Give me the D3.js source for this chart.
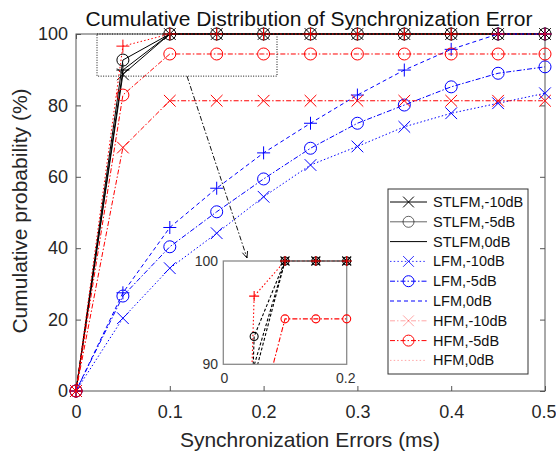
<!DOCTYPE html>
<html><head><meta charset="utf-8">
<script src="https://cdn.jsdelivr.net/npm/d3@7/dist/d3.min.js"></script>
<style>
html,body{margin:0;padding:0;background:#fff;}
svg{display:block;font-family:"Liberation Sans",Arial,Helvetica,sans-serif;}
</style></head><body>
<svg id="chart" width="556" height="454"></svg>
<script>
// Synchronization error (ms) at which each CDF sample is taken
const errorsMs = [0, 0.05, 0.1, 0.15, 0.2, 0.25, 0.3, 0.35, 0.4, 0.45, 0.5];

// Cumulative probability (%) per waveform / SNR
const stlfmM10 = [0, 88.7, 100, 100, 100, 100, 100, 100, 100, 100, 100];
const stlfmM5  = [0, 92.7, 100, 100, 100, 100, 100, 100, 100, 100, 100];
const stlfm0   = [0, 89.9, 100, 100, 100, 100, 100, 100, 100, 100, 100];
const lfmM10   = [0, 20.4, 34.4, 44.2, 54.4, 63.3, 68.5, 74.0, 77.8, 80.6, 83.4];
const lfmM5    = [0, 26.6, 40.4, 50.2, 59.4, 68.0, 75.0, 80.1, 85.2, 89.0, 90.8];
const lfm0     = [0, 27.5, 45.8, 56.8, 66.7, 75.0, 82.9, 89.9, 95.7, 100, 100];
const hfmM10   = [0, 68.2, 81.3, 81.3, 81.3, 81.3, 81.3, 81.3, 81.3, 81.3, 81.3];
const hfmM5    = [0, 82.9, 94.4, 94.4, 94.4, 94.4, 94.4, 94.4, 94.4, 94.4, 94.4];
const hfm0     = [0, 96.6, 100, 100, 100, 100, 100, 100, 100, 100, 100];

const seriesNames = ["STLFM,-10dB", "STLFM,-5dB", "STLFM,0dB",
                     "LFM,-10dB", "LFM,-5dB", "LFM,0dB",
                     "HFM,-10dB", "HFM,-5dB", "HFM,0dB"];

const xTicks = [0, 0.1, 0.2, 0.3, 0.4, 0.5];
const yTicks = [0, 20, 40, 60, 80, 100];
const insetXTicks = [0, 0.2];
const insetYTicks = [90, 100];

const titleText = "Cumulative Distribution of Synchronization Error";
const xLabelText = "Synchronization Errors (ms)";
const yLabelText = "Cumulative probability (%)";

// line styles (MATLAB-like: solid, ':', '-.', '--')
const DOT = "1.5,2.2", DASHDOT = "5,2,1.5,2", DASH = "4,3";
const series = [
  {name: seriesNames[0], values: stlfmM10, color: "#000", dash: null,    marker: "x", legendMarker: true,  legendAlpha: 1},
  {name: seriesNames[1], values: stlfmM5,  color: "#000", dash: null,    marker: "o", legendMarker: true,  legendAlpha: 0.6},
  {name: seriesNames[2], values: stlfm0,   color: "#000", dash: null,    marker: "+", legendMarker: false, legendAlpha: 1},
  {name: seriesNames[3], values: lfmM10,   color: "#0000ff", dash: DOT,     marker: "x", legendMarker: true,  legendAlpha: 0.8},
  {name: seriesNames[4], values: lfmM5,    color: "#0000ff", dash: DASHDOT, marker: "o", legendMarker: true,  legendAlpha: 1},
  {name: seriesNames[5], values: lfm0,     color: "#0000ff", dash: DASH,    marker: "+", legendMarker: false, legendAlpha: 1},
  {name: seriesNames[6], values: hfmM10,   color: "#ff0000", dash: DASHDOT, marker: "x", legendMarker: true,  legendAlpha: 0.35},
  {name: seriesNames[7], values: hfmM5,    color: "#ff0000", dash: DASHDOT, marker: "o", legendMarker: true,  legendAlpha: 1},
  {name: seriesNames[8], values: hfm0,     color: "#ff0000", dash: DOT,     marker: "+", legendMarker: false, legendAlpha: 0.35}
];

const svg = d3.select("#chart");
const axisColor = "#555";
const textColor = "#262626";

const x = d3.scaleLinear().domain([0, 0.5]).range([76, 545]);
const y = d3.scaleLinear().domain([0, 100]).range([391, 34]);

// marker glyph as a path centred on (cx, cy)
function markerPath(type, cx, cy, s) {
  if (type === "o") {
    return `M${cx + s},${cy}A${s},${s} 0 1,1 ${cx - s},${cy}A${s},${s} 0 1,1 ${cx + s},${cy}Z`;
  }
  if (type === "x") {
    const d = s * 0.9;
    return `M${cx - d},${cy - d}L${cx + d},${cy + d}M${cx - d},${cy + d}L${cx + d},${cy - d}`;
  }
  return `M${cx - s},${cy}L${cx + s},${cy}M${cx},${cy - s}L${cx},${cy + s}`;
}

// ---- title and axis labels
svg.append("text").attr("x", 309).attr("y", 26).attr("text-anchor", "middle")
  .attr("font-size", 21).attr("fill", "#111").text(titleText);
svg.append("text").attr("x", 310).attr("y", 447).attr("text-anchor", "middle")
  .attr("font-size", 21).attr("fill", textColor).text(xLabelText);
svg.append("text").attr("transform", "translate(27,211) rotate(-90)").attr("text-anchor", "middle")
  .attr("font-size", 21).attr("fill", textColor).text(yLabelText);

// ---- axes (ticks pointing inward on all four sides)
function styleAxis(g) {
  g.select(".domain").remove();
  g.selectAll(".tick line").attr("stroke", axisColor);
  g.selectAll(".tick text").attr("fill", textColor).attr("font-size", 18)
    .attr("font-family", "Liberation Sans, Arial, sans-serif");
}
const xAxisG = svg.append("g").attr("transform", "translate(0,391)")
  .call(d3.axisBottom(x).tickValues(xTicks).tickSize(-5).tickPadding(14).tickFormat(d => String(d)))
  .call(styleAxis);
// the last label sits at the figure's right edge: keep it inside the canvas
xAxisG.selectAll(".tick text").filter(d => d === 0.5).attr("text-anchor", "end").attr("dx", 11);
svg.append("g").attr("transform", "translate(0,34)")
  .call(d3.axisTop(x).tickValues(xTicks).tickSize(-5).tickFormat(""))
  .call(styleAxis);
svg.append("g").attr("transform", "translate(76,0)")
  .call(d3.axisLeft(y).tickValues(yTicks).tickSize(-5).tickPadding(8).tickFormat(d => String(d)))
  .call(styleAxis);
svg.append("g").attr("transform", "translate(545,0)")
  .call(d3.axisRight(y).tickValues(yTicks).tickSize(-5).tickFormat(""))
  .call(styleAxis);
svg.append("rect").attr("x", 76).attr("y", 34).attr("width", 545 - 76).attr("height", 391 - 34)
  .attr("fill", "none").attr("stroke", axisColor).attr("stroke-width", 1);

// ---- main curves
const plotG = svg.append("g");
series.forEach(s => {
  const pts = errorsMs.map((e, i) => [e, s.values[i]]);
  const line = d3.line().x(d => x(d[0])).y(d => y(d[1]));
  plotG.append("path").attr("d", line(pts)).attr("fill", "none")
    .attr("stroke", s.color).attr("stroke-width", 1)
    .attr("stroke-dasharray", s.dash);
  plotG.append("g").selectAll("path").data(pts).join("path")
    .attr("d", d => markerPath(s.marker, x(d[0]), y(d[1]), s.marker === "o" ? 6 : 6.5))
    .attr("fill", "none").attr("stroke", s.color).attr("stroke-width", 1);
});

// ---- zoom window and pointer to the inset
const zoomWin = {x0: 0.0224, x1: 0.2143, y0: 88.2, y1: 100};
svg.append("rect")
  .attr("x", x(zoomWin.x0)).attr("y", y(zoomWin.y1))
  .attr("width", x(zoomWin.x1) - x(zoomWin.x0)).attr("height", y(zoomWin.y0) - y(zoomWin.y1))
  .attr("fill", "none").attr("stroke", "#111").attr("stroke-width", 1).attr("stroke-dasharray", "1,1.5");

const arrowFrom = [187, y(zoomWin.y0)], arrowTo = [247, 258];
svg.append("line").attr("x1", arrowFrom[0]).attr("y1", arrowFrom[1])
  .attr("x2", arrowTo[0]).attr("y2", arrowTo[1])
  .attr("stroke", "#111").attr("stroke-width", 1).attr("stroke-dasharray", "5,2,1.5,2");
{
  const ang = Math.atan2(arrowTo[1] - arrowFrom[1], arrowTo[0] - arrowFrom[0]);
  const L = 7, spread = 0.4;
  const p1 = [arrowTo[0] - L * Math.cos(ang - spread), arrowTo[1] - L * Math.sin(ang - spread)];
  const p2 = [arrowTo[0] - L * Math.cos(ang + spread), arrowTo[1] - L * Math.sin(ang + spread)];
  svg.append("path").attr("d", `M${p1}L${arrowTo}L${p2}`).attr("fill", "none")
    .attr("stroke", "#111").attr("stroke-width", 1);
}

// ---- inset: close-up of 90-100 % over 0-0.2 ms
const ix = d3.scaleLinear().domain([0, 0.2]).range([223.3, 346.7]);
const iy = d3.scaleLinear().domain([90, 100]).range([364.3, 261]);
const inset = svg.append("g");
inset.append("rect").attr("x", ix(0)).attr("y", iy(100))
  .attr("width", ix(0.2) - ix(0)).attr("height", iy(90) - iy(100))
  .attr("fill", "#fff").attr("stroke", "none");
svg.append("defs").append("clipPath").attr("id", "insetClip").append("rect")
  .attr("x", ix(0)).attr("y", iy(100) - 1).attr("width", ix(0.2) - ix(0)).attr("height", iy(90) - iy(100) + 1);
const insetLines = inset.append("g").attr("clip-path", "url(#insetClip)");
series.forEach(s => {
  const pts = errorsMs.map((e, i) => [e, s.values[i]]);
  const line = d3.line().x(d => ix(d[0])).y(d => iy(d[1]));
  insetLines.append("path").attr("d", line(pts)).attr("fill", "none")
    .attr("stroke", s.color).attr("stroke-width", 1.1)
    .attr("stroke-dasharray", s.color === "#000" ? "3,2" : s.dash);
});
inset.append("rect").attr("x", ix(0)).attr("y", iy(100))
  .attr("width", ix(0.2) - ix(0)).attr("height", iy(90) - iy(100))
  .attr("fill", "none").attr("stroke", "#8a8a8a").attr("stroke-width", 1.3);
series.forEach(s => {
  const pts = errorsMs.map((e, i) => [e, s.values[i]])
    .filter(d => d[0] <= 0.2 && d[1] >= 90);
  inset.append("g").selectAll("path").data(pts).join("path")
    .attr("d", d => markerPath(s.marker, ix(d[0]), iy(d[1]), s.marker === "o" ? 4 : 5))
    .attr("fill", "none").attr("stroke", s.color).attr("stroke-width", 1.1);
});
inset.selectAll("text.iy").data(insetYTicks).join("text").attr("class", "iy")
  .attr("x", 218).attr("y", d => iy(d)).attr("dy", "0.35em").attr("text-anchor", "end")
  .attr("font-size", 14).attr("fill", "#333").text(d => String(d));
inset.selectAll("text.ix").data(insetXTicks).join("text").attr("class", "ix")
  .attr("x", d => ix(d) + (d === 0 ? 1 : -1)).attr("y", 383).attr("text-anchor", "middle")
  .attr("font-size", 14).attr("fill", "#333").text(d => String(d));

// ---- legend
const lg = svg.append("g");
lg.append("rect").attr("x", 388).attr("y", 189).attr("width", 140).attr("height", 185)
  .attr("fill", "#fff").attr("stroke", "#333").attr("stroke-width", 1);
series.forEach((s, i) => {
  const cy = 202 + i * 19.8;
  const row = lg.append("g");
  row.append("line").attr("x1", 390).attr("x2", 427).attr("y1", cy).attr("y2", cy)
    .attr("stroke", s.color).attr("stroke-width", 1).attr("stroke-dasharray", s.dash)
    .attr("stroke-opacity", s.legendAlpha);
  if (s.legendMarker) {
    row.append("path").attr("d", markerPath(s.marker, 408.5, cy, s.marker === "o" ? 5.5 : 6))
      .attr("fill", "none").attr("stroke", s.color).attr("stroke-width", 1)
      .attr("stroke-opacity", s.legendAlpha);
  }
  row.append("text").attr("x", 433).attr("y", cy + 5).attr("font-size", 14.5)
    .attr("fill", "#111").text(s.name);
});
</script>
</body></html>
